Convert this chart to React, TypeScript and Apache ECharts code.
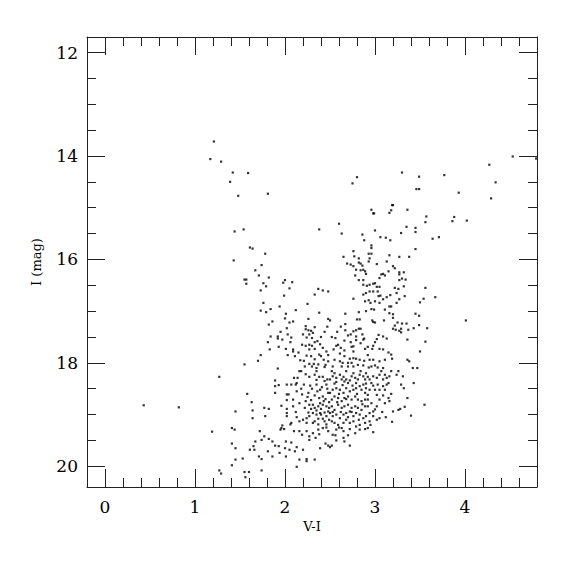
import React, { useEffect, useRef } from "react";
import * as echarts from "echarts";

// V-I colour (x) and I magnitude (y) pairs, grouped by region
const upperLeftStars: number[][] = [
  [1.21,13.72],[1.17,14.06],[1.29,14.11],[1.42,14.32],[1.59,14.33],[1.39,14.50],[1.48,14.77],[1.81,14.73],
  [1.44,15.46],[1.54,15.42],[2.38,15.42],[1.61,15.77],[1.64,15.79],[1.78,15.89],[0.43,18.82],[0.82,18.86],
];

const upperRightStars: number[][] = [
  [4.53,14.01],[4.79,14.05],[4.27,14.17],[4.34,14.51],[4.29,14.82],[3.93,14.71],[3.77,14.37],[3.49,14.40],
  [3.30,14.32],[3.46,14.64],[3.49,14.64],[2.80,14.41],[2.75,14.53],[3.19,14.95],[3.20,14.95],[3.18,15.05],
  [3.16,15.10],[3.36,15.04],[2.96,15.04],[2.98,15.11],[2.99,15.11],[3.57,15.17],[3.56,15.28],[3.88,15.18],
  [3.86,15.26],[4.02,15.25],[2.60,15.31],[2.63,15.50],[3.00,15.44],[2.86,15.52],[2.88,15.63],[3.06,15.57],
  [3.12,15.58],[3.17,15.63],[3.29,15.49],[3.35,15.37],[3.45,15.39],[3.45,15.47],[3.64,15.60],[3.71,15.57],
  [3.45,15.80],[2.96,15.73],[2.96,15.78],[2.93,15.89],[2.96,15.89],[2.76,15.84],[2.65,15.95],[2.77,15.94],
  [2.82,15.98],[2.94,15.98],[3.16,15.92],[3.27,15.95],[3.38,15.95],[4.01,17.18],
];

const middleLeftStars: number[][] = [
  [1.43,16.02],[1.74,16.11],[1.67,16.21],[1.55,16.39],[1.57,16.39],[1.57,16.47],[1.71,16.31],[1.82,16.35],
  [1.76,16.46],[1.79,16.52],[1.73,16.60],[1.98,16.45],[2.00,16.40],[2.08,16.44],[2.05,16.56],[1.99,16.70],
  [2.37,16.57],[2.42,16.60],[2.48,16.62],[2.33,16.68],[1.76,16.84],[1.73,16.99],[1.79,17.02],[1.84,16.96],
  [1.94,16.91],[2.25,16.86],[2.12,16.98],[2.01,17.05],[2.38,17.03],[2.00,17.14],[2.05,17.22],[2.09,17.20],
  [1.86,17.20],[1.82,17.26],[2.26,17.15],[2.48,17.15],[2.23,17.29],[2.33,17.31],[2.47,17.30],[2.02,17.33],
  [1.95,17.40],[1.84,17.49],[1.92,17.53],[1.92,17.49],[1.97,17.55],[2.03,17.45],[2.07,17.51],[2.06,17.60],
  [1.81,17.60],[1.83,17.74],[1.73,17.85],[1.70,17.96],[1.93,17.69],[2.01,17.73],[2.09,17.74],[2.09,17.78],
  [2.03,17.85],[2.11,17.87],[1.55,18.03],[1.92,18.11],[2.23,17.35],[2.26,17.37],[2.29,17.38],[2.31,17.42],
  [2.27,17.45],[2.24,17.51],[2.30,17.52],[2.19,17.65],[2.23,17.67],[2.27,17.65],[2.30,17.67],[2.33,17.60],
  [2.36,17.58],[2.39,17.64],[2.42,17.71],[2.27,17.74],[2.33,17.73],[2.38,17.84],[2.40,17.87],[2.24,17.86],
  [2.29,17.87],[2.33,17.93],[2.17,17.95],[2.21,17.96],[2.27,18.02],[2.32,18.02],[2.37,18.03],[2.43,17.94],
  [2.48,17.85],[2.45,18.04],[2.22,18.07],[2.30,18.07],[2.44,18.08],[2.48,17.97],[2.35,18.10],
  [2.44,17.40],[2.40,17.50],[2.15,17.80],[2.46,17.78],[2.20,17.45],
];

const middleRightStars: number[][] = [
  [2.69,16.08],[2.73,16.10],[2.76,16.13],[2.82,16.06],[2.84,16.08],[2.86,16.12],[2.93,16.04],[3.02,16.09],
  [3.13,16.04],[3.20,16.13],[3.22,16.17],[3.15,16.23],[3.09,16.28],[3.07,16.29],[3.11,16.31],[3.05,16.36],
  [2.79,16.20],[2.84,16.21],[2.87,16.20],[2.89,16.23],[2.90,16.28],[2.78,16.31],[2.82,16.40],[2.87,16.40],
  [2.87,16.49],[2.91,16.51],[2.94,16.49],[2.98,16.47],[3.00,16.46],[3.02,16.53],[3.05,16.53],[2.94,16.62],
  [2.98,16.62],[3.03,16.62],[3.04,16.71],[3.06,16.70],[2.87,16.68],[2.90,16.65],[2.76,16.76],[2.89,16.81],
  [2.93,16.79],[2.95,16.84],[3.00,16.81],[3.05,16.84],[3.09,16.77],[3.13,16.73],[3.17,16.69],[3.22,16.55],
  [3.26,16.57],[3.27,16.40],[3.30,16.37],[3.27,16.29],[3.32,16.25],[3.27,16.25],[3.34,16.39],[3.32,16.52],
  [3.24,16.65],[3.27,16.77],[3.24,16.84],[3.33,16.71],[3.16,16.91],[3.18,16.91],[3.16,17.04],[3.11,16.97],
  [2.96,16.96],[2.99,16.97],[2.90,17.00],[2.82,17.02],[2.67,17.05],[3.50,16.83],[3.56,16.55],[3.54,16.76],
  [3.67,16.73],[3.45,17.05],[3.49,17.09],[3.35,17.24],[3.30,17.24],[3.25,17.22],[3.22,17.28],[3.20,17.13],
  [3.20,17.06],[3.23,17.36],[3.27,17.38],[3.29,17.34],[3.20,17.34],[3.29,17.41],[3.37,17.36],[3.43,17.33],
  [3.49,17.27],[3.58,17.33],[3.56,17.59],[3.36,17.55],[3.50,17.78],[3.10,17.18],[2.97,17.18],[2.98,17.21],
  [3.00,17.22],[2.80,17.16],[2.83,17.16],[2.67,17.25],[2.67,17.37],[2.76,17.39],[2.79,17.37],[2.82,17.34],
  [2.84,17.34],[2.86,17.45],[2.79,17.49],[2.73,17.45],[2.70,17.47],[2.66,17.57],[2.73,17.60],[2.74,17.69],
  [2.76,17.68],[2.79,17.56],[2.84,17.62],[2.87,17.55],[2.88,17.53],[2.89,17.73],[2.92,17.69],[2.97,17.73],
  [2.98,17.67],[3.02,17.54],[3.04,17.46],[3.09,17.49],[3.13,17.53],[3.05,17.73],[3.09,17.74],[3.15,17.80],
  [3.18,17.84],[3.19,17.92],[3.11,17.94],[3.05,17.97],[2.98,17.94],[2.94,17.94],[2.88,17.96],[2.83,17.94],
  [2.79,17.92],[2.76,17.91],[2.72,17.92],[2.66,17.87],[2.61,17.82],[2.59,17.65],[2.56,17.52],[2.52,17.50],
  [2.50,17.18],[2.63,18.07],[2.70,18.07],[2.76,18.07],[2.81,18.04],[2.87,18.05],[2.93,18.09],[2.96,18.07],
  [3.00,18.05],[3.03,18.09],[3.09,18.10],[3.36,17.94],[3.38,17.97],[3.42,18.10],[3.47,18.10],[2.55,17.94],
  [2.53,18.07],[2.61,17.97],[2.64,18.00],[2.70,18.00],[2.74,18.00],[2.76,17.78],[2.66,17.76],[2.62,17.71],
  [2.57,17.67],[2.54,17.74],[2.58,17.40],[2.62,17.30],[2.92,17.85],[3.00,17.60],
];

const lowerLeftStars: number[][] = [
  [1.27,18.27],[1.58,18.60],[1.45,18.94],[1.63,18.76],[1.64,18.92],[1.64,19.07],[1.19,19.33],[1.41,19.26],
  [1.44,19.29],[1.41,19.56],[1.45,19.65],[1.45,19.87],[1.41,19.98],[1.53,19.85],[1.27,20.08],[1.29,20.14],
  [1.55,20.11],[1.60,20.11],[1.56,20.21],[1.74,20.08],[1.72,19.32],[1.77,18.87],[1.82,18.89],[1.78,19.03],
  [1.89,18.58],[1.89,18.45],[1.93,18.43],[1.89,18.34],[2.02,18.42],[2.07,18.42],[2.10,18.29],[2.13,18.39],
  [2.12,18.42],[2.16,18.16],[2.18,18.16],[2.14,18.29],[2.23,18.22],[2.27,18.27],[2.33,18.23],[2.35,18.16],
  [2.38,18.27],[2.42,18.27],[2.47,18.32],[2.21,18.42],[2.28,18.44],[2.35,18.42],[2.39,18.52],[2.46,18.42],
  [2.13,18.55],[2.19,18.61],[2.26,18.58],[2.33,18.63],[2.38,18.68],[2.42,18.65],[2.48,18.58],[2.02,18.61],
  [2.04,18.61],[2.02,18.72],[2.09,18.71],[1.96,18.83],[2.02,18.89],[2.09,18.84],[2.16,18.78],[2.23,18.74],
  [2.29,18.72],[2.31,18.81],[2.22,18.87],[2.26,18.96],[2.33,18.87],[2.37,18.84],[2.40,18.89],[2.42,18.81],
  [2.46,18.84],[2.48,18.94],[2.44,18.96],[2.39,18.97],[2.35,19.00],[2.31,18.97],[2.46,19.03],[2.42,19.08],
  [2.37,19.08],[2.33,19.13],[2.27,19.03],[2.24,19.07],[2.20,19.10],[2.16,19.13],[2.13,19.05],[2.07,19.16],
  [2.06,19.19],[2.02,19.03],[2.02,18.97],[1.96,19.26],[1.99,19.28],[1.95,19.29],[1.97,19.21],[2.10,19.32],
  [2.16,19.32],[2.19,19.39],[2.24,19.32],[2.27,19.42],[2.31,19.36],[2.37,19.29],[2.42,19.26],[2.46,19.19],
  [2.48,19.32],[2.27,19.49],[2.34,19.45],[2.39,19.65],[2.45,19.56],[2.48,19.60],[2.20,19.68],[2.13,19.63],
  [2.07,19.54],[2.01,19.52],[2.05,19.68],[2.00,19.65],[1.93,19.61],[1.89,19.60],[1.86,19.52],[1.82,19.47],
  [1.77,19.42],[1.74,19.49],[1.67,19.52],[1.65,19.61],[1.61,19.68],[1.66,19.68],[1.71,19.81],[1.74,19.86],
  [1.81,19.71],[1.86,19.81],[1.94,19.74],[2.01,19.81],[2.11,19.71],[2.16,19.87],[2.24,19.90],[2.24,19.86],
  [2.33,19.87],[2.13,20.01],[2.27,18.81],[2.29,18.89],[2.35,18.92],[2.39,18.78],[2.43,18.74],[2.49,18.76],
  [2.40,19.00],[2.44,19.13],[2.31,19.16],[2.24,19.16],[2.37,19.19],[2.49,19.10],[2.49,18.87],
  [2.36,18.55],[2.41,18.47],[2.45,18.70],[2.30,18.50],[2.47,18.50],[2.46,19.25],[2.38,19.38],[2.44,18.35],
  [2.35,18.33],[2.18,18.50],[2.25,18.66],[2.12,18.95],
];

const lowerRightStars: number[][] = [
  [2.52,18.16],[2.55,18.20],[2.53,18.26],[2.57,18.29],[2.50,18.32],[2.61,18.23],[2.63,18.32],[2.65,18.27],
  [2.68,18.16],[2.66,18.36],[2.68,18.32],[2.70,18.39],[2.72,18.34],[2.74,18.26],[2.76,18.20],[2.78,18.29],
  [2.79,18.39],[2.81,18.32],[2.83,18.23],[2.84,18.16],[2.87,18.26],[2.89,18.32],[2.90,18.20],[2.92,18.27],
  [2.94,18.32],[2.96,18.39],[2.98,18.26],[3.02,18.29],[3.05,18.23],[3.07,18.16],[3.09,18.32],[3.11,18.23],
  [3.13,18.29],[3.15,18.39],[3.16,18.26],[3.18,18.16],[3.24,18.23],[3.26,18.16],[3.31,18.26],[3.29,18.42],
  [3.32,18.49],[3.43,18.39],[3.36,18.68],[3.55,18.81],[3.40,19.02],[3.19,19.14],[3.28,18.89],[3.33,18.85],
  [3.26,18.91],[3.20,18.94],[3.16,18.74],[3.18,18.60],[3.15,18.68],[3.09,18.63],[3.11,18.78],[3.05,18.71],
  [3.02,18.84],[2.98,18.94],[2.96,18.78],[2.92,18.71],[2.89,18.58],[2.85,18.52],[2.90,18.49],[2.94,18.52],
  [3.00,18.52],[3.02,18.62],[3.05,18.52],[3.09,18.45],[3.11,18.52],[3.13,18.42],[3.03,18.42],[2.98,18.44],
  [2.87,18.42],[2.83,18.45],[2.79,18.49],[2.76,18.52],[2.72,18.55],[2.68,18.49],[2.65,18.58],[2.61,18.52],
  [2.57,18.49],[2.53,18.52],[2.50,18.58],[2.52,18.71],[2.55,18.65],[2.59,18.68],[2.63,18.74],[2.66,18.68],
  [2.70,18.65],[2.74,18.71],[2.78,18.65],[2.81,18.71],[2.85,18.74],[2.89,18.71],[2.92,18.84],[2.89,18.84],
  [2.85,18.91],[2.81,18.87],[2.78,18.84],[2.74,18.87],[2.70,18.81],[2.66,18.84],[2.63,18.87],[2.59,18.81],
  [2.55,18.91],[2.52,18.84],[2.50,18.97],[2.53,19.03],[2.57,19.00],[2.61,19.07],[2.65,19.00],[2.68,18.97],
  [2.72,18.94],[2.76,19.03],[2.79,18.97],[2.83,19.00],[2.87,19.07],[2.90,19.03],[2.94,18.97],[2.98,19.03],
  [3.02,19.10],[3.05,19.07],[2.94,19.13],[2.89,19.16],[2.83,19.20],[2.79,19.23],[2.76,19.13],[2.72,19.16],
  [2.68,19.10],[2.65,19.16],[2.59,19.20],[2.55,19.16],[2.52,19.13],[2.57,19.29],[2.63,19.26],[2.65,19.32],
  [2.72,19.28],[2.78,19.36],[2.83,19.29],[2.89,19.28],[2.98,19.34],[2.53,19.39],[2.65,19.45],[2.66,19.52],
  [2.57,19.50],[2.52,19.60],[2.50,19.63],[2.72,19.60],[2.92,19.26],
  [2.55,18.40],[2.60,18.60],[2.62,18.95],[2.70,19.05],[2.80,18.60],[2.86,18.80],[2.92,18.62],[2.58,18.76],
  [2.68,18.70],[2.74,18.95],[2.53,18.95],[2.60,19.25],[2.56,19.40],[2.70,19.40],[2.82,19.10],[2.95,19.20],
  [3.00,18.90],[3.08,18.95],[3.12,19.05],[2.57,18.37],[2.75,18.44],[2.64,18.43],[2.90,18.40],
];

const xMajorTicks = [0, 1, 2, 3, 4];
const xMinorTicks = [0.2, 0.4, 0.6, 0.8, 1.2, 1.4, 1.6, 1.8, 2.2, 2.4, 2.6, 2.8, 3.2, 3.4, 3.6, 3.8, 4.2, 4.4, 4.6];
const yMajorTicks = [12, 14, 16, 18, 20];
const yMinorTicks = [12.5, 13, 13.5, 14.5, 15, 15.5, 16.5, 17, 17.5, 18.5, 19, 19.5];

const X_MIN = -0.2, X_MAX = 4.8, Y_MIN = 11.7, Y_MAX = 20.4;
const FONT = "'DejaVu Serif', serif";
const LINE = "#222";

function xAx(position: "top" | "bottom", ticks: number[], len: number, labels: boolean, line: boolean) {
  return {
    type: "value", position, min: X_MIN, max: X_MAX,
    axisLine: { show: line, onZero: false, lineStyle: { color: LINE, width: 1 } },
    axisTick: { show: true, inside: true, length: len, customValues: ticks, lineStyle: { color: LINE, width: 1 } },
    axisLabel: labels
      ? { show: true, customValues: ticks, margin: 11, fontSize: 17, fontFamily: FONT, color: "#000" }
      : { show: false },
    splitLine: { show: false },
    ...(labels ? {
      name: "V-I", nameLocation: "middle", nameGap: 29,
      nameTextStyle: { fontSize: 13, fontFamily: FONT, color: "#000" },
    } : {}),
  };
}

function yAx(position: "left" | "right", ticks: number[], len: number, labels: boolean, line: boolean) {
  return {
    type: "value", position, min: Y_MIN, max: Y_MAX, inverse: true,
    axisLine: { show: line, onZero: false, lineStyle: { color: LINE, width: 1 } },
    axisTick: { show: true, inside: true, length: len, customValues: ticks, lineStyle: { color: LINE, width: 1 } },
    axisLabel: labels
      ? { show: true, customValues: ticks, margin: 9, fontSize: 17, fontFamily: FONT, color: "#000" }
      : { show: false },
    splitLine: { show: false },
    ...(labels ? {
      name: "I (mag)", nameLocation: "middle", nameGap: 44, nameRotate: 90,
      nameTextStyle: { fontSize: 13, fontFamily: FONT, color: "#000" },
    } : {}),
  };
}

export default function App() {
  const ref = useRef<HTMLDivElement>(null);
  useEffect(() => {
    document.body.style.margin = "0";
    if (!ref.current) return;
    const chart = echarts.init(ref.current, null, { renderer: "svg" });
    const data = [
      ...upperLeftStars, ...upperRightStars, ...middleLeftStars,
      ...middleRightStars, ...lowerLeftStars, ...lowerRightStars,
    ];
    chart.setOption({
      animation: false,
      backgroundColor: "#fff",
      grid: { left: 87, right: 38, top: 37, bottom: 88, containLabel: false, outerBoundsMode: "none" },
      xAxis: [
        xAx("bottom", xMajorTicks, 18, true, true),
        xAx("bottom", xMinorTicks, 9, false, false),
        xAx("top", xMajorTicks, 18, false, true),
        xAx("top", xMinorTicks, 9, false, false),
      ],
      yAxis: [
        yAx("left", yMajorTicks, 18, true, true),
        yAx("left", yMinorTicks, 9, false, false),
        yAx("right", yMajorTicks, 18, false, true),
        yAx("right", yMinorTicks, 9, false, false),
      ],
      series: [
        {
          type: "scatter", xAxisIndex: 0, yAxisIndex: 0, data,
          symbol: "rect", symbolSize: 2.2, silent: true,
          itemStyle: { color: "#000" },
        },
      ],
    });
    return () => chart.dispose();
  }, []);
  return <div ref={ref} style={{ width: 575, height: 575 }} />;
}
